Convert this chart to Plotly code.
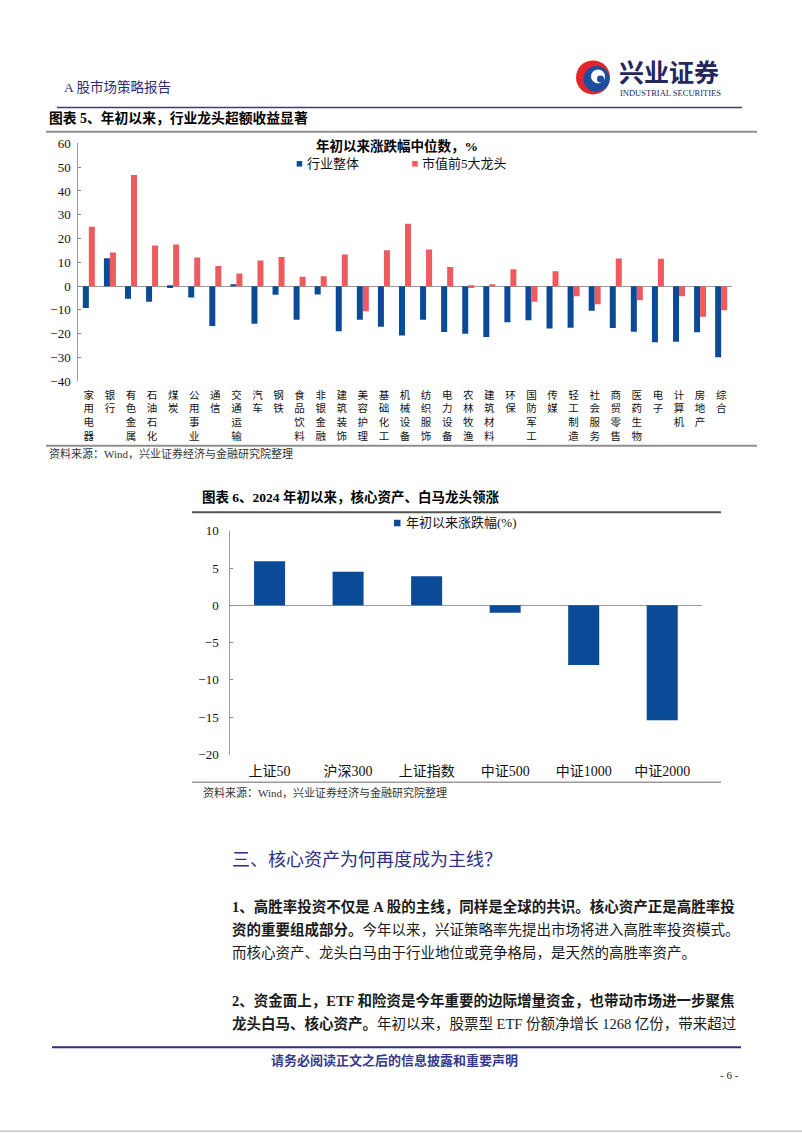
import plotly.graph_objects as go

W, H = 802, 1133

# ---------------- data ----------------
industries = ["家用电器", "银行", "有色金属", "石油石化", "煤炭", "公用事业", "通信", "交通运输",
              "汽车", "钢铁", "食品饮料", "非银金融", "建筑装饰", "美容护理", "基础化工", "机械设备",
              "纺织服饰", "电力设备", "农林牧渔", "建筑材料", "环保", "国防军工", "传媒", "轻工制造",
              "社会服务", "商贸零售", "医药生物", "电子", "计算机", "房地产", "综合"]
industry_overall = [-9.2, 11.7, -5.3, -6.6, -0.8, -4.8, -16.8, 0.4, -15.8, -3.6, -14.1, -3.5,
                    -19.0, -14.1, -17.1, -20.7, -14.1, -19.3, -20.0, -21.4, -15.2, -14.3, -17.8,
                    -17.5, -10.3, -17.6, -19.2, -23.6, -23.4, -19.4, -29.9]
top5_leaders = [25.0, 14.1, 46.7, 17.1, 17.5, 12.0, 8.5, 5.3, 10.8, 12.2, 3.9, 4.2, 13.3, -10.6,
                15.1, 26.2, 15.4, 8.0, -0.8, 0.8, 7.1, -6.6, 6.3, -4.2, -7.6, 11.6, -5.9, 11.5,
                -4.3, -12.9, -10.1]
series1_names = ["行业整体", "市值前5大龙头"]
chart1_yticks = [-40, -30, -20, -10, 0, 10, 20, 30, 40, 50, 60]

indices = ["上证50", "沪深300", "上证指数", "中证500", "中证1000", "中证2000"]
index_change = [5.9, 4.5, 3.9, -1.0, -8.0, -15.4]
series2_name = "年初以来涨跌幅(%)"
chart2_yticks = [-20, -15, -10, -5, 0, 5, 10]

# ---------------- styles ----------------
BLUE = "#0B4A97"
RED = "#EE5B5E"
NAVY = "#2B2E74"
SERIF = "Liberation Serif, Noto Sans CJK SC"
CJK = "Noto Sans CJK SC"

# vertical calibration (page is photographed slightly compressed vertically)
VS, VO = 0.987, 6.6


def fx(x):
    return x / W


def fy(y):
    t = (y - VO) / VS
    return 1 - t / H


# chart geometry in page pixels
c1_l, c1_r, c1_t, c1_b = 78.3, 731.7, 143.0, 381.0
c2_l, c2_r, c2_t, c2_b = 230.3, 701.5, 530.5, 754.3

fig = go.Figure()
fig.add_trace(go.Bar(x=industries, y=industry_overall, name=series1_names[0], marker_color=BLUE,
                     marker_line_width=0, xaxis="x", yaxis="y", showlegend=False))
fig.add_trace(go.Bar(x=industries, y=top5_leaders, name=series1_names[1], marker_color=RED,
                     marker_line_width=0, xaxis="x", yaxis="y", showlegend=False))
fig.add_trace(go.Bar(x=indices, y=index_change, name=series2_name, marker_color=BLUE,
                     marker_line_width=0, width=0.395, xaxis="x2", yaxis="y2", showlegend=False))

y1_dom = [fy(c1_b), fy(c1_t)]
zero_pos = y1_dom[0] + (0 - (-40)) / 100 * (y1_dom[1] - y1_dom[0])

fig.update_layout(
    width=W, height=H, margin=dict(l=0, r=0, t=0, b=0),
    paper_bgcolor="white", plot_bgcolor="rgba(0,0,0,0)",
    barmode="group", bargap=0.43, bargroupgap=0,
    font=dict(family=SERIF, color="#000"),
    xaxis=dict(domain=[fx(c1_l), fx(c1_r)], anchor="y", type="category",
               categoryorder="array", categoryarray=industries,
               tickmode="array", tickvals=industries,
               ticktext=["<br>".join(list(n)) for n in industries],
               ticks="", showline=False, showgrid=False, zeroline=False, tickangle=0,
               tickfont=dict(size=10.5, family=CJK, color="#111"), ticklabelstandoff=6),
    yaxis=dict(domain=y1_dom, anchor="x", range=[-40, 60], tickmode="array", tickvals=chart1_yticks,
               ticks="inside", ticklen=3, tickcolor="#888", showline=True, linecolor="#9a9a9a",
               linewidth=1, zeroline=True, zerolinecolor="#9a9a9a", zerolinewidth=1, showgrid=False,
               tickfont=dict(size=13, family="Liberation Serif", color="#111"), ticklabelstandoff=4),
    xaxis3=dict(overlaying="x", anchor="free", position=zero_pos, range=[-0.5, len(industries) - 0.5],
                tickmode="array", tickvals=[i + 0.5 for i in range(len(industries))],
                ticks="inside", ticklen=3, tickcolor="#666", showticklabels=False,
                showline=False, showgrid=False, zeroline=False),
    xaxis2=dict(domain=[fx(c2_l), fx(c2_r)], anchor="y2", type="category",
                categoryorder="array", categoryarray=indices,
                ticks="", showline=False, showgrid=False, zeroline=False, tickangle=0,
                tickfont=dict(size=14, family=SERIF, color="#111"), ticklabelstandoff=6),
    yaxis2=dict(domain=[fy(c2_b), fy(c2_t)], anchor="x2", range=[-20, 10], tickmode="array",
                tickvals=chart2_yticks, ticks="inside", ticklen=3, tickcolor="#888", showline=True,
                linecolor="#9a9a9a", linewidth=1, zeroline=True, zerolinecolor="#9a9a9a",
                zerolinewidth=1, showgrid=False,
                tickfont=dict(size=13, family="Liberation Serif", color="#111"), ticklabelstandoff=8),
)

ann = []


def text(x, y, s, size, color="#000", family=CJK, xanchor="left"):
    ann.append(dict(x=fx(x), y=fy(y), xref="paper", yref="paper", text=s, showarrow=False,
                    xanchor=xanchor, yanchor="middle", font=dict(size=size, color=color, family=family)))


# header
text(62, 86.5, "A 股市场策略报告", 13.5, NAVY, SERIF)
text(617, 70.5, "<b>兴业证券</b>", 25, "#24265E", CJK)
text(618, 93, "INDUSTRIAL SECURITIES", 8.5, "#24265E", "Liberation Serif")

# chart 1
text(47, 118, "<b>图表 5、年初以来，行业龙头超额收益显著</b>", 13.8, "#000", SERIF)
text(396.7, 145.5, "<b>年初以来涨跌幅中位数，%</b>", 13.5, "#000", SERIF, "center")
text(305, 163.5, series1_names[0], 13, "#111", SERIF)
text(420, 163.5, series1_names[1], 13, "#111", SERIF)
text(47, 453, "资料来源：Wind，兴业证券经济与金融研究院整理", 11, "#333", SERIF)

# chart 2
text(200, 496.5, "<b>图表 6、2024 年初以来，核心资产、白马龙头领涨</b>", 13.5, "#000", SERIF)
text(404, 522.5, series2_name, 13, "#111", SERIF)
text(200.5, 792, "资料来源：Wind，兴业证券经济与金融研究院整理", 11, "#333", SERIF)

# body text
text(230, 858, "三、核心资产为何再度成为主线？", 18, "#2D3085", CJK)
body = [
    (906, "<b>1、高胜率投资不仅是 A 股的主线，同样是全球的共识。核心资产正是高胜率投</b>"),
    (929, "<b>资的重要组成部分。</b>今年以来，兴证策略率先提出市场将进入高胜率投资模式。"),
    (952, "而核心资产、龙头白马由于行业地位或竞争格局，是天然的高胜率资产。"),
    (1000, "<b>2、资金面上，ETF 和险资是今年重要的边际增量资金，也带动市场进一步聚焦</b>"),
    (1023, "<b>龙头白马、核心资产。</b>年初以来，股票型 ETF 份额净增长 1268 亿份，带来超过"),
]
for yy, s in body:
    text(229.5, yy, s, 14.5, "#1a1a1a", SERIF)

# footer
text(394, 1059, "<b>请务必阅读正文之后的信息披露和重要声明</b>", 13, "#353A8C", CJK, "center")
text(729, 1075, "- 6 -", 11, "#222", "Liberation Serif", "center")

fig.update_layout(annotations=ann)

shapes = []


def hline(x0, x1, y, color, width):
    shapes.append(dict(type="line", xref="paper", yref="paper", x0=fx(x0), x1=fx(x1), y0=fy(y), y1=fy(y),
                       line=dict(color=color, width=width)))


def rect(x0, y0, x1, y1, color):
    shapes.append(dict(type="rect", xref="paper", yref="paper", x0=fx(x0), x1=fx(x1), y0=fy(y1), y1=fy(y0),
                       fillcolor=color, line=dict(width=0)))


def circ(cx, cy, r, color):
    shapes.append(dict(type="circle", xref="paper", yref="paper", x0=fx(cx - r), x1=fx(cx + r),
                       y0=fy(cy + r), y1=fy(cy - r), fillcolor=color, line=dict(width=0)))


hline(57, 742, 107, "#3B3F6E", 1.5)
hline(46, 757, 131.5, "#8f8f8f", 2)
hline(46, 757, 445.5, "#8f8f8f", 2)
hline(192, 721, 512, "#555555", 2)
hline(192, 721, 782, "#9a9a9a", 1.5)
hline(52, 741, 1047, "#2B2E7A", 2)
hline(0, 802, 1131, "#aaaaaa", 1)

# legend squares
rect(296.7, 160.7, 302.2, 166.2, BLUE)
rect(412.2, 160.7, 417.7, 166.2, RED)
rect(394, 519.5, 400.5, 526, BLUE)

# logo
circ(593, 77, 17, "#E2262B")
circ(596.5, 78.5, 13, "#1D4E9E")
circ(598, 76, 7, "white")
circ(600.5, 78.5, 3.5, "#1D4E9E")

fig.update_layout(shapes=shapes)

fig.write_html("out.html")
